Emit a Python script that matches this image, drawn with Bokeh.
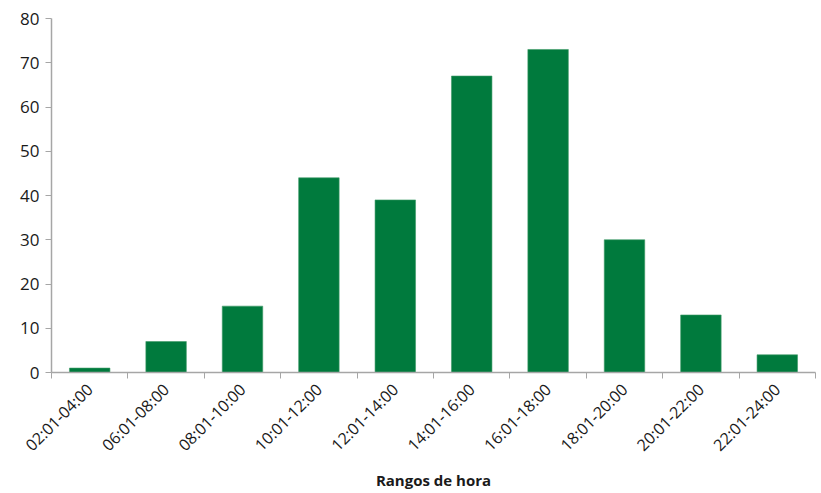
import math
from bokeh.plotting import figure
from bokeh.models import FixedTicker, Range1d, ColumnDataSource
from bokeh.embed import file_html
from bokeh.resources import INLINE

categories = ["02:01-04:00", "06:01-08:00", "08:01-10:00", "10:01-12:00", "12:01-14:00",
              "14:01-16:00", "16:01-18:00", "18:01-20:00", "20:01-22:00", "22:01-24:00"]
values = [1, 7, 15, 44, 39, 67, 73, 30, 13, 4]
y_ticks = [0, 10, 20, 30, 40, 50, 60, 70, 80]

n = len(categories)
centers = [i + 0.5 for i in range(n)]
src = ColumnDataSource(dict(x=centers, top=values))

p = figure(width=820, height=493, output_backend="svg", toolbar_location=None,
           x_range=Range1d(0, n), y_range=Range1d(0, 80))
p.min_border_left = 51
p.min_border_right = 5
p.min_border_top = 18
p.min_border_bottom = 121
p.outline_line_color = None
p.xgrid.visible = False
p.ygrid.visible = False
p.background_fill_color = "white"

p.vbar(x="x", top="top", width=0.53, bottom=0, source=src,
       fill_color="#007A3D", line_color="#3f9a68", line_width=0.6)

font = "Open Sans"
axis_color = "#a6a6a6"

# x axis
xa = p.xaxis[0]
xa.ticker = FixedTicker(ticks=centers, minor_ticks=list(range(n + 1)))
xa.major_label_overrides = {c: lab for c, lab in zip(centers, categories)}
xa.major_label_orientation = math.pi / 4
xa.major_tick_in = 0
xa.major_tick_out = 0
xa.minor_tick_in = 0
xa.minor_tick_out = 6
xa.minor_tick_line_color = axis_color
xa.axis_line_color = axis_color
xa.axis_line_width = 1.5
xa.major_label_text_font = font
xa.major_label_text_font_size = "16px"
xa.major_label_text_color = "#1a1a1a"
xa.major_label_standoff = 8
xa.axis_label = "Rangos de hora"
xa.axis_label_text_font = font
xa.axis_label_text_font_size = "15px"
xa.axis_label_text_font_style = "bold"
xa.axis_label_text_color = "#1a1a1a"
xa.axis_label_standoff = 4

# y axis
ya = p.yaxis[0]
ya.ticker = FixedTicker(ticks=y_ticks)
ya.minor_tick_line_color = None
ya.major_tick_in = 0
ya.major_tick_out = 6
ya.major_tick_line_color = axis_color
ya.axis_line_color = axis_color
ya.axis_line_width = 1.5
ya.major_label_text_font = font
ya.major_label_text_font_size = "17px"
ya.major_label_text_color = "#1a1a1a"
ya.major_label_standoff = 6

open("out.html", "w").write(file_html(p, INLINE))
